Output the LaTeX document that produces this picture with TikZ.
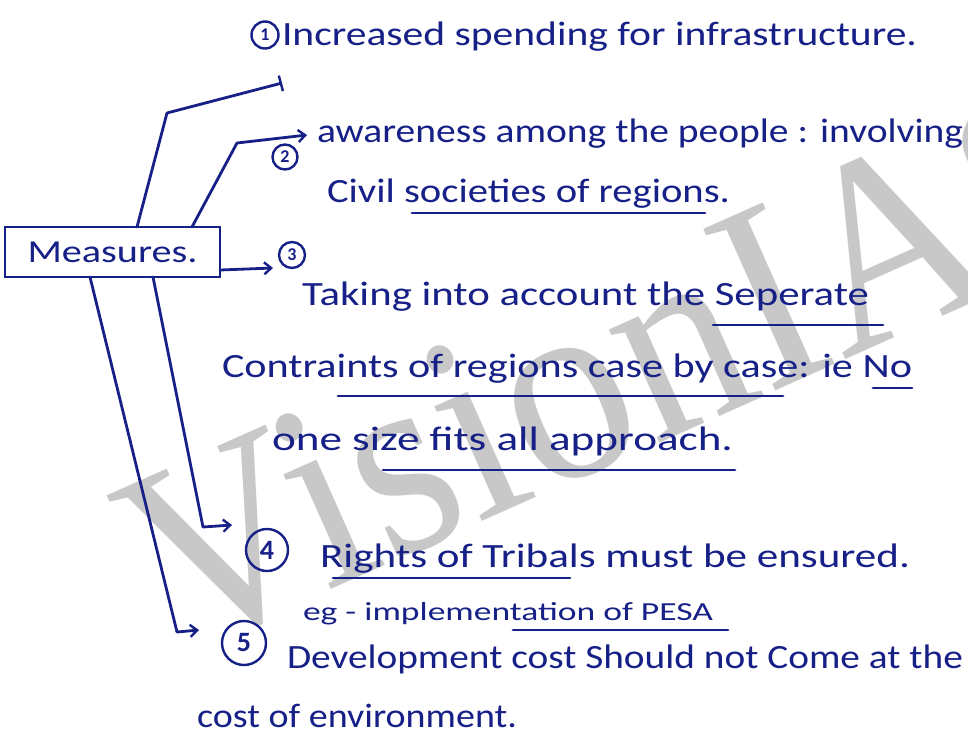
\documentclass[tikz,border=0pt]{standalone}
\usepackage{fontspec}
\setmainfont{Carlito}
\newfontfamily\wmfont{Liberation Serif}
\usetikzlibrary{arrows.meta,calc}
\definecolor{ink}{RGB}{22,32,135}
\definecolor{wmgray}{RGB}{200,200,200}
\newcommand{\fitw}[2]{\resizebox{#1}{\height}{#2}}
\begin{document}
\begin{tikzpicture}[x=1pt,y=-1pt,
  every node/.style={inner sep=0pt, outer sep=0pt},
  inkline/.style={draw=ink, line width=2.8pt, line cap=round, line join=round},
  txt/.style={text=ink, anchor=base west, font=\fontsize{34}{40}\selectfont},
  smalltxt/.style={text=ink, anchor=base west, font=\fontsize{26}{30}\selectfont},
  num/.style={circle, draw=ink, line width=2.4pt, text=ink, font=\bfseries\fontsize{18}{20}\selectfont},
  bignum/.style={num, font=\bfseries\fontsize{28}{30}\selectfont},
  arr/.style={inkline, -{Straight Barb[length=7pt,width=12pt,line width=2.4pt]}},
  tickarr/.style={inkline, -{Bar[width=16pt,line width=2.4pt]}},
  ul/.style={draw=ink, line width=2.8pt, line cap=round},
]
\useasboundingbox (0,0) rectangle (968,747);
\fill[white] (0,0) rectangle (968,747);
\begin{scope}
\clip (0,0) rectangle (968,747);
\node[text=wmgray, rotate=24, anchor=base west, font=\wmfont\fontsize{270}{270}\selectfont] (wm) at (176,658) {\scalebox{0.92}[1]{VisionIAS}};
\end{scope}

% main box
\node[draw=ink, line width=2.8pt, minimum width=215pt, minimum height=50pt, text=ink, font=\fontsize{32}{36}\selectfont] (meas) at (112.5,252) {\fitw{170pt}{Measures.}};

% circled numbers
\node[num, minimum size=27pt] (c1) at (265,35) {1};
\node[num, minimum size=25pt] (c2) at (285,157) {2};
\node[num, minimum size=26pt] (c3) at (292,255) {3};
\node[bignum, minimum size=42pt] (c4) at (267,550) {4};
\node[bignum, minimum size=44pt] (c5) at (244,643) {5};

% texts
\node[txt] (t1) at (282,45) {\fitw{635pt}{Increased spending for infrastructure.}};
\node[txt] (t2) at (317,142) {\fitw{646pt}{awareness among the people : involving}};
\node[txt] (t3) at (327,202) {\fitw{403pt}{Civil societies of regions.}};
\node[txt] (t4) at (302,305) {\fitw{567pt}{Taking into account the Seperate}};
\node[txt] (t5) at (222,377) {\fitw{690pt}{Contraints of regions case by case: ie No}};
\node[txt] (t6) at (272,450) {\fitw{461pt}{one size fits all approach.}};
\node[txt] (t7) at (320,567) {\fitw{590pt}{Rights of Tribals must be ensured.}};
\node[smalltxt] (t8) at (303,620) {\fitw{410pt}{eg - implementation of PESA}};
\node[txt] (t9) at (287,668) {\fitw{676pt}{Development cost Should not Come at the}};
\node[txt] (t10) at (197,727) {\fitw{320pt}{cost of environment.}};

% underlines
\draw[ul] (412,213) -- (705,213);
\draw[ul] (713,325) -- (883,325);
\draw[ul] (338,396) -- (783,396);
\draw[ul] (873,388) -- (912,388);
\draw[ul] (383,470) -- (735,470);
\draw[ul] (333,578) -- (570,578);
\draw[ul] (513,630) -- (728,630);

% connectors
\coordinate (a1s) at ($(meas.north west)+(132,0)$);
\coordinate (a2s) at ($(meas.north west)+(187,0)$);
\coordinate (a4s) at ($(meas.south west)+(148,0)$);
\coordinate (a5s) at ($(meas.south west)+(85,0)$);
\coordinate (a3s) at ($(meas.south east)+(0,-7)$);
\coordinate (e1) at (282,83);
\coordinate (e2) at (307,135);
\coordinate (e3) at (273,268);
\coordinate (e4) at (232,525);
\coordinate (e5) at (199,630);

\draw[tickarr] (a1s) -- (167,113) -- (e1);
\draw[arr] (a2s) -- (237,143) -- (e2);
\draw[arr] (a3s) -- (e3);
\draw[arr] (a4s) -- (203,527) -- (e4);
\draw[arr] (a5s) -- (177,632) -- (e5);
\end{tikzpicture}
\end{document}
